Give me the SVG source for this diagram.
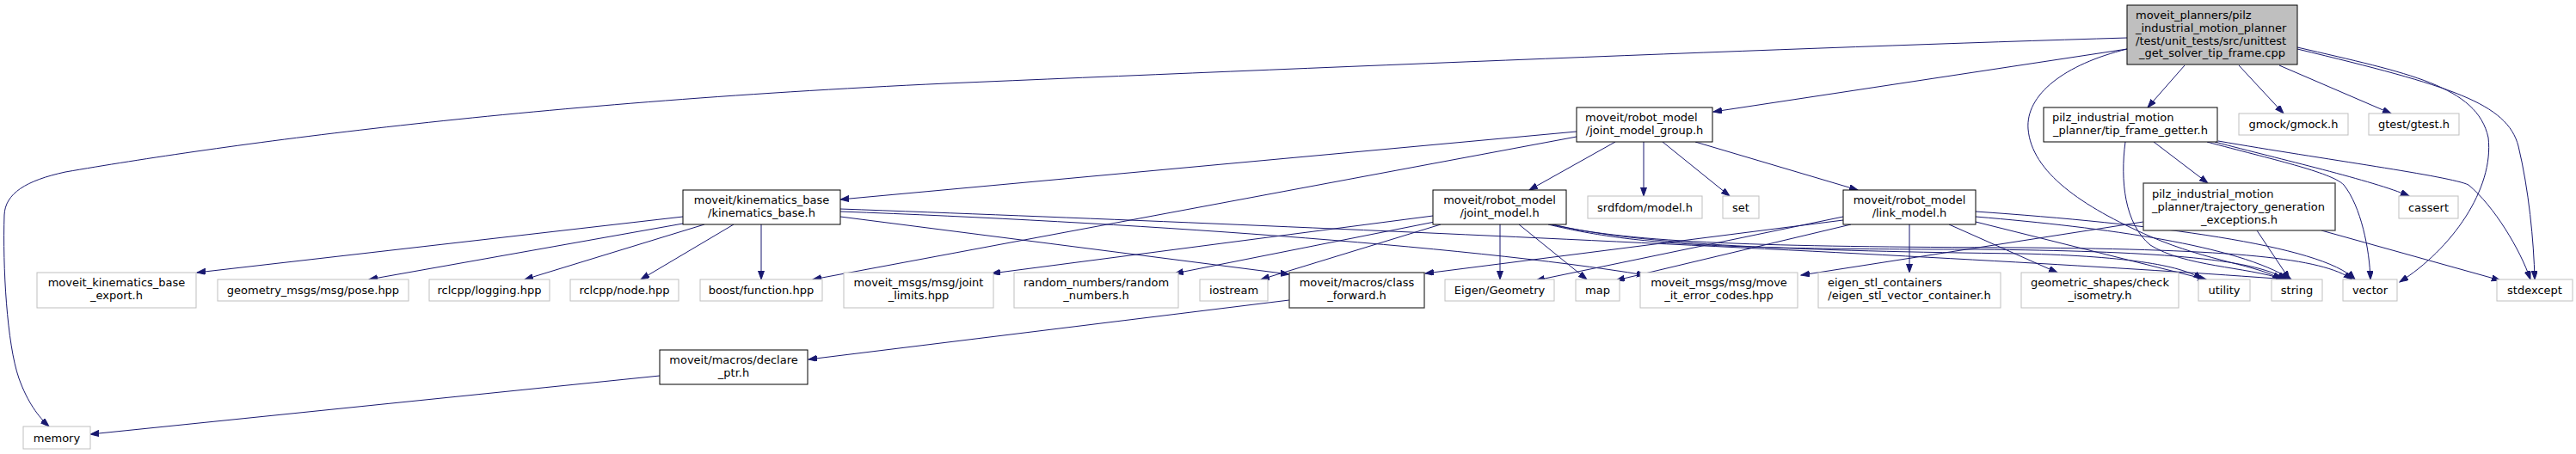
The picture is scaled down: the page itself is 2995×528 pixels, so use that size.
<svg xmlns="http://www.w3.org/2000/svg" width="2995" height="528" viewBox="0 0 2995 528">
<style>
text{font-family:"DejaVu Sans","Liberation Sans",sans-serif;font-size:13px;fill:#000}
.m{text-anchor:middle}
.s{text-anchor:start}
.doc rect{fill:#fff;stroke:#000;stroke-width:1}
.dg rect{fill:#fff;stroke:#404040;stroke-width:1.3}
.ext rect{fill:#fff;stroke:#bfbfbf;stroke-width:1}
.root rect{fill:#bfbfbf;stroke:#000;stroke-width:1}
#edges path{fill:none;stroke:#191970;stroke-width:1;marker-end:url(#ah)}
</style>
<defs>
<marker id="ah" markerWidth="11" markerHeight="8" refX="10" refY="3.5" orient="auto" markerUnits="userSpaceOnUse">
<path d="M0,0 L10,3.5 L0,7 z" fill="#191970" stroke="#191970" stroke-width="1"/>
</marker>
</defs>
<rect x="0" y="0" width="2995" height="528" fill="#fff"/>
<g id="edges">
<path d="M2473,44 C2100,55 1500,80 1100,97 C600,120 250,170 76,200 C30,210 6,225 5,250 C3,310 8,400 22,440 C32,468 45,485 57,496"/>
<path d="M2473,57 L1992,130"/>
<path d="M2540,76 L2497,125"/>
<path d="M2603,76 L2655,132"/>
<path d="M2650,76 L2780,132"/>
<path d="M2473,57 C2400,75 2355,110 2358,150 C2362,200 2420,240 2500,275 C2570,305 2625,308 2652,325"/>
<path d="M2671,55 C2800,85 2880,100 2893,160 C2900,220 2850,290 2790,328"/>
<path d="M2671,57 C2850,100 2915,120 2928,170 C2940,220 2946,280 2947,325"/>
<path d="M2471,165 C2465,210 2470,260 2500,285 C2540,310 2610,310 2656,325"/>
<path d="M2504,165 L2567,213"/>
<path d="M2566,165 C2640,185 2710,200 2725,215 C2745,240 2755,290 2756,325"/>
<path d="M2575,165 C2650,185 2760,210 2801,228"/>
<path d="M2579,164 C2700,185 2850,205 2870,215 C2900,240 2930,290 2942,325"/>
<path d="M2492,258 L2094,320"/>
<path d="M2624,268 L2662,325"/>
<path d="M2699,268 L2907,326"/>
<path d="M1833,153 L977,232"/>
<path d="M1833,159 L945,325"/>
<path d="M1878,165 L1778,221"/>
<path d="M1911,165 L1911,228"/>
<path d="M1933,165 L2011,228"/>
<path d="M1971,165 L2160,221"/>
<path d="M794,252 L229,317"/>
<path d="M794,260 L429,325"/>
<path d="M819,261 L610,325"/>
<path d="M853,261 L745,325"/>
<path d="M885,261 L885,325"/>
<path d="M977,252 L1499,319"/>
<path d="M977,246 C1300,258 1700,285 1913,320"/>
<path d="M977,243 C1500,262 2300,298 2660,325"/>
<path d="M2143,256 L1657,318"/>
<path d="M2143,252 L1786,326"/>
<path d="M2152,261 L1879,326"/>
<path d="M2220,261 L2220,317"/>
<path d="M2266,261 L2392,317"/>
<path d="M2297,258 L2565,325"/>
<path d="M2297,252 C2450,265 2600,285 2664,325"/>
<path d="M2297,246 C2500,260 2700,285 2738,325"/>
<path d="M1666,251 L1153,318"/>
<path d="M1668,258 L1366,318"/>
<path d="M1675,261 L1466,325"/>
<path d="M1744,261 L1744,325"/>
<path d="M1766,261 L1845,325"/>
<path d="M1800,261 C1900,285 2000,290 2300,290 C2500,292 2620,300 2658,325"/>
<path d="M1803,261 C1900,283 2050,287 2350,288 C2600,290 2700,300 2735,325"/>
<path d="M1806,261 C1900,285 2100,292 2350,295 C2480,298 2540,310 2560,325"/>
<path d="M1499,349 L940,418"/>
<path d="M767,437 L105,505"/>
</g>
<g id="n_main" class="root"><rect x="2473" y="6" width="198" height="69"/><text class="s" x="2483" y="22">moveit_planners/pilz</text><text class="s" x="2483" y="37">_industrial_motion_planner</text><text class="s" x="2483" y="51.5">/test/unit_tests/src/unittest</text><text class="m" x="2572" y="66">_get_solver_tip_frame.cpp</text></g>
<g id="n_tfg" class="doc"><rect x="2376" y="125" width="202" height="40"/><text class="s" x="2386" y="141">pilz_industrial_motion</text><text class="m" x="2477" y="156">_planner/tip_frame_getter.h</text></g>
<g id="n_gmock" class="ext"><rect x="2603" y="132" width="127" height="25"/><text class="m" x="2666.5" y="149">gmock/gmock.h</text></g>
<g id="n_gtest" class="ext"><rect x="2754" y="132" width="105" height="25"/><text class="m" x="2806.5" y="149">gtest/gtest.h</text></g>
<g id="n_jmg" class="doc"><rect x="1833" y="125" width="158" height="40"/><text class="s" x="1843" y="141">moveit/robot_model</text><text class="m" x="1912" y="156">/joint_model_group.h</text></g>
<g id="n_kb" class="doc"><rect x="794" y="221" width="183" height="40"/><text class="m" x="885.5" y="237">moveit/kinematics_base</text><text class="m" x="885.5" y="252">/kinematics_base.h</text></g>
<g id="n_jm" class="doc"><rect x="1666" y="221" width="155" height="40"/><text class="m" x="1743.5" y="237">moveit/robot_model</text><text class="m" x="1743.5" y="252">/joint_model.h</text></g>
<g id="n_srdf" class="ext"><rect x="1846" y="228" width="133" height="26"/><text class="m" x="1912.5" y="245.5">srdfdom/model.h</text></g>
<g id="n_set" class="ext"><rect x="2003" y="228" width="42" height="26"/><text class="m" x="2024" y="245.5">set</text></g>
<g id="n_lm" class="doc"><rect x="2143" y="221" width="154" height="40"/><text class="m" x="2220" y="237">moveit/robot_model</text><text class="m" x="2220" y="252">/link_model.h</text></g>
<g id="n_traj" class="dg"><rect x="2492" y="213" width="223" height="55"/><text class="s" x="2502" y="230">pilz_industrial_motion</text><text class="s" x="2502" y="245">_planner/trajectory_generation</text><text class="m" x="2603.5" y="259.5">_exceptions.h</text></g>
<g id="n_cassert" class="ext"><rect x="2789" y="228" width="69" height="26"/><text class="m" x="2823.5" y="245.5">cassert</text></g>
<g id="n_export" class="ext"><rect x="43" y="317" width="185" height="41"/><text class="m" x="135.5" y="333">moveit_kinematics_base</text><text class="m" x="135.5" y="348">_export.h</text></g>
<g id="n_pose" class="ext"><rect x="253" y="325" width="222" height="25"/><text class="m" x="364" y="342">geometry_msgs/msg/pose.hpp</text></g>
<g id="n_logging" class="ext"><rect x="499" y="325" width="140" height="25"/><text class="m" x="569" y="342">rclcpp/logging.hpp</text></g>
<g id="n_node" class="ext"><rect x="663" y="325" width="126" height="25"/><text class="m" x="726" y="342">rclcpp/node.hpp</text></g>
<g id="n_boost" class="ext"><rect x="814" y="325" width="142" height="25"/><text class="m" x="885" y="342">boost/function.hpp</text></g>
<g id="n_jlimits" class="ext"><rect x="981" y="317" width="174" height="41"/><text class="m" x="1068" y="333">moveit_msgs/msg/joint</text><text class="m" x="1068" y="348">_limits.hpp</text></g>
<g id="n_random" class="ext"><rect x="1179" y="317" width="191" height="41"/><text class="m" x="1274.5" y="333">random_numbers/random</text><text class="m" x="1274.5" y="348">_numbers.h</text></g>
<g id="n_iostream" class="ext"><rect x="1395" y="325" width="79" height="25"/><text class="m" x="1434.5" y="342">iostream</text></g>
<g id="n_classfwd" class="dg"><rect x="1499" y="317" width="157" height="41"/><text class="m" x="1577.5" y="333">moveit/macros/class</text><text class="m" x="1577.5" y="348">_forward.h</text></g>
<g id="n_eigen" class="ext"><rect x="1680" y="325" width="127" height="25"/><text class="m" x="1743.5" y="342">Eigen/Geometry</text></g>
<g id="n_map" class="ext"><rect x="1832" y="325" width="51" height="25"/><text class="m" x="1857.5" y="342">map</text></g>
<g id="n_moveit_err" class="ext"><rect x="1907" y="317" width="183" height="41"/><text class="m" x="1998.5" y="333">moveit_msgs/msg/move</text><text class="m" x="1998.5" y="348">_it_error_codes.hpp</text></g>
<g id="n_eigenstl" class="ext"><rect x="2114" y="317" width="212" height="41"/><text class="s" x="2125" y="333">eigen_stl_containers</text><text class="m" x="2220" y="348">/eigen_stl_vector_container.h</text></g>
<g id="n_checkiso" class="ext"><rect x="2350" y="317" width="183" height="41"/><text class="m" x="2441.5" y="333">geometric_shapes/check</text><text class="m" x="2441.5" y="348">_isometry.h</text></g>
<g id="n_utility" class="ext"><rect x="2556" y="325" width="60" height="25"/><text class="m" x="2586" y="342">utility</text></g>
<g id="n_string" class="ext"><rect x="2641" y="325" width="59" height="25"/><text class="m" x="2670.5" y="342">string</text></g>
<g id="n_vector" class="ext"><rect x="2724" y="325" width="63" height="25"/><text class="m" x="2755.5" y="342">vector</text></g>
<g id="n_stdexcept" class="ext"><rect x="2903" y="325" width="88" height="25"/><text class="m" x="2947" y="342">stdexcept</text></g>
<g id="n_declptr" class="doc"><rect x="767" y="407" width="172" height="40"/><text class="m" x="853" y="423">moveit/macros/declare</text><text class="m" x="853" y="438">_ptr.h</text></g>
<g id="n_memory" class="ext"><rect x="27" y="496" width="78" height="26"/><text class="m" x="66" y="513.5">memory</text></g>
</svg>
